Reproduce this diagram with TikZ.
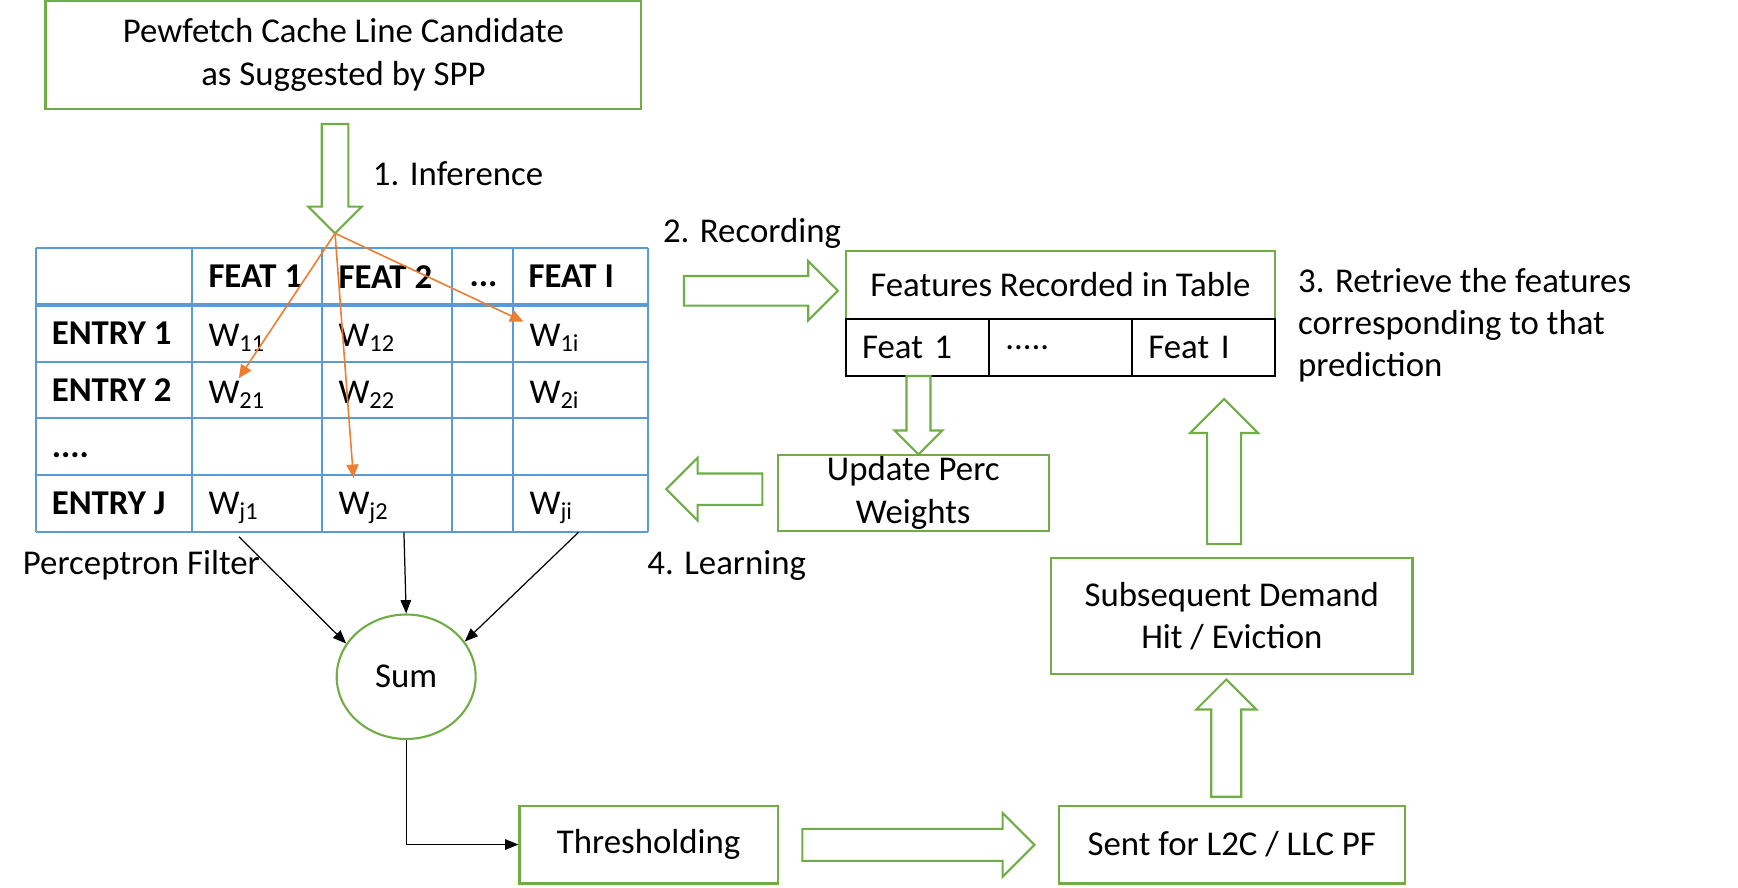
\documentclass[tikz,border=0pt]{standalone}
\usepackage{fontspec}
\setmainfont{Carlito}
\usetikzlibrary{arrows.meta,shapes.geometric}
\definecolor{boxgreen}{HTML}{70AD47}
\definecolor{gridblue}{HTML}{5B9BD5}
\definecolor{pickorange}{HTML}{ED7D31}
\begin{document}
\begin{tikzpicture}
[x=0.01111cm,y=-0.01111cm,
  every node/.style={font=\fontsize{9.9}{12}\selectfont},
  greenbox/.style={shape=rectangle,draw=boxgreen,line width=0.6pt,align=center,inner sep=0pt},
  cellbox/.style={shape=rectangle,draw=black,line width=0.6pt,inner xsep=0.163cm,inner ysep=0pt,
    text width=1.105cm,minimum height=0.571cm,align=left},
  celltext/.style={anchor=west,inner sep=0pt},
  headtext/.style={anchor=west,inner sep=0pt,font=\fontsize{9.9}{12}\selectfont\bfseries},
  gridline/.style={draw=gridblue,line width=0.6pt},
  pickline/.style={draw=pickorange,line width=0.45pt,-{Triangle[length=3.8pt,width=3.4pt]}},
  sumline/.style={draw=black,line width=0.35pt,-{Triangle[length=3.8pt,width=3pt]}},
  hollow arrow/.pic={
    \draw[boxgreen,line width=0.6pt,line join=miter]
      (0,-15) -- ({#1-30},-15) -- ({#1-30},-30) -- (#1,0) -- ({#1-30},30) -- ({#1-30},15) -- (0,15) -- cycle;
  }]
\useasboundingbox (0,0) rectangle (1564,799);
%% boxes
\node (cand) at (309,49.5) [greenbox,minimum width=5.955cm,minimum height=1.078cm]
  {Pewfetch Cache Line Candidate\\as Suggested by SPP};
\node (ftitle) at (954.25,256.5) [greenbox,minimum width=4.294cm,minimum height=0.678cm]
  {Features Recorded in Table};
\node (fc1) at (825.5,312.7) [cellbox] {Feat 1};
\node (fc2) at (954.4,312.7) [cellbox] {.....};
\node (fc3) at (1083.1,312.7) [cellbox] {Feat I};
\node (update) at (821.8,443.5) [greenbox,minimum width=2.706cm,minimum height=0.756cm]
  {Update Perc\\Weights};
\node (subseq) at (1108.5,554.5) [greenbox,minimum width=3.611cm,minimum height=1.156cm]
  {Subsequent Demand\\Hit / Eviction};
\node (thresh) at (583.75,760) [greenbox,minimum width=2.583cm,minimum height=0.778cm] {Thresholding};
\node (sent) at (1108.5,760) [greenbox,minimum width=3.455cm,minimum height=0.778cm] {Sent for L2C / LLC PF};
\node (sum) at (365.5,609) [shape=ellipse,draw=boxgreen,line width=0.6pt,inner sep=0pt,
  minimum width=1.389cm,minimum height=1.244cm] {Sum};
%% perceptron table
\foreach \y in {223,326,376,427.5,479} {
  \draw[gridline] (32,\y) -- (583,\y);
}
\draw[gridblue,line width=1.3pt] (32,274.5) -- (583,274.5);
\foreach \x in {32,173,290,407,462,583} {
  \draw[gridline] (\x,223) -- (\x,479);
}
\foreach \nodename/\x/\txt in {feat1/187/FEAT 1, feat2/304/FEAT 2, feati/475/FEAT I} {
  \node (\nodename) at (\x,249) [headtext] {\txt};
}
\node (featdots) at (422,256) [headtext] {...};
\foreach \nodename/\y/\txt in {entry1/300/ENTRY 1, entry2/351/ENTRY 2, entryj/453/ENTRY J} {
  \node (\nodename) at (46,\y) [headtext] {\txt};
}
\node (entrydots) at (46,409.5) [headtext] {....};
\foreach \nodename/\x/\y/\sub in {w11/187/304/11, w12/304/304/12, w1i/476/304/1i,
  w21/187/355/21, w22/304/355/22, w2i/476/355/2i, wj1/187/457/j1, wj2/304/457/j2, wji/476/457/ji} {
  \node (\nodename) at (\x,\y) [celltext] {W\textsubscript{\sub}};
}
%% labels
\node (infer) at (335,156) [anchor=west,inner sep=0pt] {1. Inference};
\node (record) at (596,210) [anchor=west,inner sep=0pt] {2. Recording};
\node (learn) at (582,508.5) [anchor=west,inner sep=0pt] {4. Learning};
\node (percname) at (20,508.5) [anchor=west,inner sep=0pt] {Perceptron Filter};
\node (retrieve) at (1167.5,292.4) [anchor=west,inner sep=0pt,align=left]
  {3. Retrieve the features\\corresponding to that\\prediction};
%% block arrows
\pic[rotate=-90,scale=0.8] at (301.5,111.6) {hollow arrow=123};
\pic[scale=0.89] at (615.4,261.7) {hollow arrow=155.7};
\pic[rotate=-90,scale=0.72] at (826.5,338.4) {hollow arrow=98};
\pic[rotate=180,scale=0.94] at (686,440.2) {hollow arrow=92};
\pic[scale=0.96] at (722,760.3) {hollow arrow=217.7};
\pic[rotate=90,scale=0.9] at (1103.5,717) {hollow arrow=117.3};
\pic[rotate=90,scale=1.02] at (1101.5,489.6) {hollow arrow=128};
%% lookups
\coordinate (infertip) at (301.5,210);
\draw[pickline] (infertip) -- ([xshift=0.31cm,yshift=0.017cm]w21.north west);
\draw[pickline] (infertip) -- ([xshift=0.156cm,yshift=0.133cm]wj2.north west);
\draw[pickline] (infertip) -- ([xshift=-0.056cm,yshift=0.017cm]w1i.north west);
%% summation
\coordinate (tap1) at (215,483);
\coordinate (tap2) at (363.5,479);
\coordinate (tap3) at (520.6,479);
\draw[sumline] (tap1) -- (sum.151);
\draw[sumline] (tap2) -- (sum.north);
\draw[sumline] (tap3) -- (sum.31);
\draw[sumline] (sum.south) |- (thresh.west);
\end{tikzpicture}
\end{document}
